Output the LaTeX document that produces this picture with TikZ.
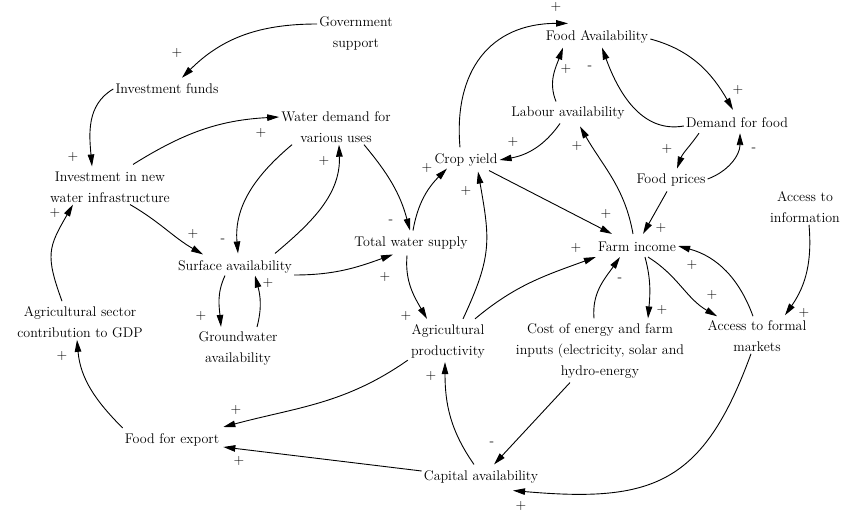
\documentclass[tikz,border=0pt]{standalone}
\usepackage{fontspec}
\usetikzlibrary{arrows.meta}
\begin{document}
\begin{tikzpicture}[x=1pt,y=1pt,
  var/.style={font=\rmfamily\fontsize{14}{21}\selectfont, align=center, inner sep=2pt},
  link/.style={draw, line width=0.9pt, -{Triangle[length=12pt,width=6.5pt]}},
  pol/.style={font=\rmfamily\fontsize{14}{14}\selectfont, inner sep=0pt}]
\useasboundingbox (0,0) rectangle (854,512);

% variables
\node[var] (gov)     at (356,479) {Government\\support};
\node[var] (invf)    at (167,423) {Investment funds};
\node[var] (wdem)    at (336,385) {Water demand for\\various uses};
\node[var] (inwi)    at (110,325) {Investment in new\\water infrastructure};
\node[var] (foodav)  at (597,475) {Food Availability};
\node[var] (labour)  at (568,399) {Labour availability};
\node[var] (demand)  at (737,389) {Demand for food};
\node[var] (crop)    at (466,352) {Crop yield};
\node[var] (fprice)  at (671,332) {Food prices};
\node[var] (info)    at (805,305) {Access to\\information};
\node[var] (tws)     at (411,269) {Total water supply};
\node[var] (farm)    at (637,265) {Farm income};
\node[var] (surf)    at (235,245) {Surface availability};
\node[var] (agsec)   at (80,190)  {Agricultural sector\\contribution to GDP};
\node[var] (ground)  at (238,164) {Groundwater\\availability};
\node[var] (agprod)  at (448,171) {Agricultural\\productivity};
\node[var] (cost)    at (600,161) {Cost of energy and farm\\inputs (electricity, solar and\\hydro-energy};
\node[var] (afm)     at (757,176) {Access to formal\\markets};
\node[var] (export)  at (172,72)  {Food for export};
\node[var] (capital) at (481,35)  {Capital availability};

% causal links
\draw[link] ([yshift=9pt]gov.west) to[out=180,in=45] ([shift={(15pt,4pt)}]invf.north);
\draw[link] (invf.west) to[out=210,in=95] ([shift={(-18pt,3pt)}]inwi.north);
\draw[link] ([shift={(23pt,5pt)}]inwi.north) to[out=32,in=183] ([yshift=10pt]wdem.west);
\draw[link] ([xshift=20pt]inwi.south) to[out=-30,in=150] ([shift={(-32pt,4pt)}]surf.north);
\draw[link] ([xshift=-44pt]wdem.south) to[out=220,in=95] ([shift={(3pt,5pt)}]surf.north);
\draw[link] ([shift={(40pt,5pt)}]surf.north) to[out=40,in=-88] ([xshift=3pt]wdem.south);
\draw[link] ([xshift=28pt]wdem.south) to[out=-50,in=105] ([shift={(-1pt,4pt)}]tws.north);
\draw[link] ([yshift=-8pt]surf.east) to[out=0,in=200] ([shift={(-18pt,-3pt)}]tws.south);
\draw[link] ([xshift=-10pt]surf.south) to[out=245,in=95] ([shift={(-17pt,2pt)}]ground.north);
\draw[link] ([shift={(19pt,2pt)}]ground.north) to[out=75,in=-75] ([xshift=20pt]surf.south);
\draw[link] ([shift={(2pt,4pt)}]tws.north) to[out=80,in=225] ([xshift=-19pt]crop.south);
\draw[link] ([shift={(-4pt,-4pt)}]tws.south) to[out=265,in=120] ([shift={(-21pt,3pt)}]agprod.north);
\draw[link] ([shift={(15pt,3pt)}]agprod.north) to[out=65,in=-80,looseness=1.2] ([shift={(12pt,-3pt)}]crop.south);
\draw[link] ([shift={(27pt,3pt)}]agprod.north) to[out=40,in=200] ([yshift=-10pt]farm.west);
\draw[link] ([shift={(23pt,-2pt)}]crop.south) -- ([shift={(-25pt,6pt)}]farm.north);
\draw[link] ([shift={(-6pt,4pt)}]crop.north) to[out=95,in=180,looseness=1.2] ([shift={(-29pt,5pt)}]foodav.north);
\draw[link] ([shift={(-12pt,3pt)}]labour.north) to[out=112,in=250] ([shift={(-34pt,-2pt)}]foodav.south);
\draw[link] ([shift={(-8pt,-2pt)}]labour.south) to[out=235,in=10] (crop.east);
\draw[link] ([shift={(-4pt,6pt)}]farm.north) to[out=100,in=-60] ([shift={(12pt,-5pt)}]labour.south);
\draw[link] ([yshift=-2pt]foodav.east) to[out=-15,in=120] ([shift={(-4pt,6pt)}]demand.north);
\draw[link] ([yshift=-3pt]demand.west) to[out=190,in=-70] ([shift={(5pt,-2pt)}]foodav.south);
\draw[link] ([shift={(-38pt,-3pt)}]demand.south) to[out=235,in=70] ([shift={(6pt,3pt)}]fprice.north);
\draw[link] ([yshift=1pt]fprice.east) to[out=20,in=-90] ([shift={(3pt,-3pt)}]demand.south);
\draw[link] ([shift={(-4pt,-3pt)}]fprice.south) -- ([shift={(6pt,6pt)}]farm.north);
\draw[link] ([shift={(8pt,-3pt)}]farm.south) to[out=-75,in=85] ([shift={(48pt,3pt)}]cost.north);
\draw[link] ([shift={(-6pt,3pt)}]cost.north) to[out=95,in=235] ([shift={(-17pt,-3pt)}]farm.south);
\draw[link] ([shift={(11pt,-3pt)}]farm.south) to[out=-32,in=150] ([shift={(-40pt,2pt)}]afm.north);
\draw[link] ([shift={(-4pt,2pt)}]afm.north) to[out=110,in=-15] ([yshift=1pt]farm.east);
\draw[link] ([xshift=4pt]info.south) to[out=-85,in=55] ([shift={(28pt,3pt)}]afm.north);
\draw[link] ([xshift=-6pt]afm.south) to[out=-110,in=-5,looseness=1.3] ([shift={(32pt,-5pt)}]capital.south);
\draw[link] ([shift={(-7pt,4pt)}]capital.north) to[out=125,in=-90] ([shift={(-3pt,-2pt)}]agprod.south);
\draw[link] ([shift={(-30pt,-2pt)}]cost.south) -- ([shift={(13pt,4pt)}]capital.north);
\draw[link] ([yshift=6pt]capital.west) -- ([shift={(2pt,-7pt)}]export.east);
\draw[link] ([xshift=-1pt]agprod.south west) to[out=215,in=15] ([shift={(2pt,13pt)}]export.east);
\draw[link] ([yshift=12pt]export.west) to[out=135,in=-85] ([xshift=-3pt]agsec.south);
\draw[link] ([shift={(-18pt,3pt)}]agsec.north) to[out=110,in=-120,looseness=1.3] ([xshift=-37pt]inwi.south);

% link polarities
\node[pol] (p1)  at (177,459) {+};
\node[pol] (p2)  at (73,355)  {+};
\node[pol] (p3)  at (261,379) {+};
\node[pol] (p4)  at (193,278) {+};
\node[pol] (p5)  at (223,271) {-};
\node[pol] (p6)  at (324,351) {+};
\node[pol] (p7)  at (391,290) {-};
\node[pol] (p8)  at (385,235) {+};
\node[pol] (p9)  at (201,196) {+};
\node[pol] (p10) at (268,229) {+};
\node[pol] (p11) at (427,344) {+};
\node[pol] (p12) at (406,196) {+};
\node[pol] (p13) at (466,321) {+};
\node[pol] (p14) at (576,264) {+};
\node[pol] (p15) at (606,298) {+};
\node[pol] (p16) at (556,505) {+};
\node[pol] (p17) at (566,443) {+};
\node[pol] (p18) at (513,370) {+};
\node[pol] (p19) at (577,366) {+};
\node[pol] (p20) at (738,422) {+};
\node[pol] (p21) at (590,444) {-};
\node[pol] (p22) at (667,363) {+};
\node[pol] (p23) at (754,362) {-};
\node[pol] (p24) at (661,284) {+};
\node[pol] (p25) at (662,202) {+};
\node[pol] (p26) at (620,232) {-};
\node[pol] (p27) at (712,217) {+};
\node[pol] (p28) at (692,247) {+};
\node[pol] (p29) at (804,199) {+};
\node[pol] (p30) at (521,6)   {+};
\node[pol] (p31) at (431,136) {+};
\node[pol] (p32) at (492,68)  {-};
\node[pol] (p33) at (239,51)  {+};
\node[pol] (p34) at (236,102) {+};
\node[pol] (p35) at (62,156)  {+};
\node[pol] (p36) at (55,299)  {+};
\end{tikzpicture}
\end{document}
